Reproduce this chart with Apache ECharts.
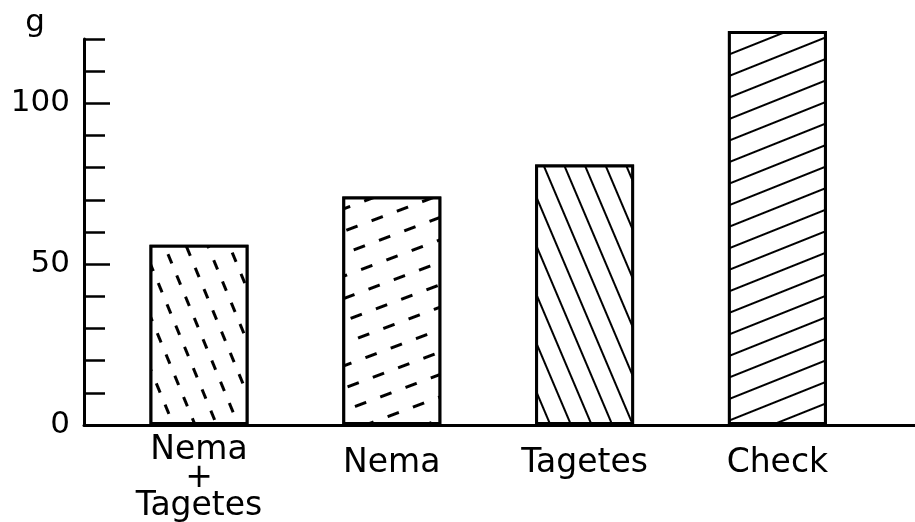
<!DOCTYPE html>
<html>
<head>
<meta charset="utf-8">
<script src="https://cdn.jsdelivr.net/npm/echarts@6/dist/echarts.min.js"></script>
<style>
  html, body { margin: 0; padding: 0; background: #fff; }
  #chart { width: 915px; height: 522px; }
</style>
</head>
<body>
<div id="chart"></div>
<script>
// Yield per treatment (g)
const categories = ['Nema\n+\nTagetes', 'Nema', 'Tagetes', 'Check'];
const yields = [56, 71, 81, 122.5];
const yLabelValues = [0, 50, 100];
const yMajorTickValues = [50, 100];
const yUnit = 'g';

// Hatching for each bar: dashed steep, dashed shallow, solid steep, solid shallow
const hatches = [
  { rotation: 1.18, dashArrayX: [10, 13], dashArrayY: [2.5, 17] },
  { rotation: -0.36, dashArrayX: [12, 15], dashArrayY: [2.5, 17.5] },
  { rotation: 1.17, dashArrayX: [1, 0], dashArrayY: [2, 17] },
  { rotation: -0.38, dashArrayX: [1, 0], dashArrayY: [2, 17.5] }
];

// Plot geometry (pixels)
const axisX = 84, baseY = 425, topY = 39, yMax = 120;
const pxPerUnit = (baseY - topY) / yMax;
const barYMax = 130;
const H = 522, W = 915;

const FONT = 'DejaVu Sans';
const INK = '#000';

const chart = echarts.init(document.getElementById('chart'), null, { renderer: 'canvas' });

chart.setOption({
  backgroundColor: '#fff',
  animation: false,
  grid: [
    { left: axisX, right: 0, top: topY, bottom: H - baseY, outerBoundsMode: 'none', containLabel: false },
    { left: 102.6, right: 41.2, top: baseY - barYMax * pxPerUnit, bottom: H - baseY, outerBoundsMode: 'none', containLabel: false }
  ],
  xAxis: [
    {
      gridIndex: 0, type: 'value', min: 0, max: 1,
      axisLine: { show: true, lineStyle: { color: INK, width: 3 } },
      axisTick: { show: false }, axisLabel: { show: false }, splitLine: { show: false }
    },
    {
      gridIndex: 1, type: 'category', data: categories,
      axisLine: { show: false }, axisTick: { show: false }, splitLine: { show: false },
      axisLabel: {
        interval: 0, margin: 11, color: INK, fontFamily: FONT, fontSize: 33, lineHeight: 28,
        formatter: (v) => v.indexOf('\n') >= 0 ? v : '{s|' + v + '}',
        rich: { s: { fontFamily: FONT, fontSize: 33, lineHeight: 54, color: INK } }
      }
    }
  ],
  yAxis: [
    {
      gridIndex: 0, type: 'value', position: 'left', min: 0, max: yMax, interval: 10,
      name: yUnit, nameLocation: 'end', nameGap: 1,
      nameTextStyle: { color: INK, fontFamily: FONT, fontSize: 31, align: 'center', padding: [0, 98, 0, 0] },
      axisLine: { show: true, lineStyle: { color: INK, width: 3 } },
      axisTick: { show: true, inside: true, length: 21, lineStyle: { color: INK, width: 2.5 } },
      axisLabel: { show: false }, splitLine: { show: false }
    },
    {
      gridIndex: 0, type: 'value', position: 'left', offset: 0, min: 0, max: yMax, interval: 50,
      axisLine: { show: false },
      axisTick: { show: true, inside: true, length: 26, customValues: yMajorTickValues, lineStyle: { color: INK, width: 2.5 } },
      axisLabel: { show: true, customValues: yLabelValues, margin: 14, color: INK, fontFamily: FONT, fontSize: 31 },
      splitLine: { show: false }
    },
    {
      gridIndex: 1, type: 'value', min: 0, max: barYMax, show: false
    }
  ],
  series: [
    {
      type: 'bar', xAxisIndex: 1, yAxisIndex: 2, barWidth: 99,
      itemStyle: { color: '#fff', borderColor: INK, borderWidth: 3 },
      data: yields.map((v, i) => ({
        value: v,
        itemStyle: {
          decal: Object.assign({ symbol: 'rect', symbolSize: 1, color: INK, backgroundColor: '#fff' }, hatches[i])
        }
      }))
    }
  ]
});
</script>
</body>
</html>
